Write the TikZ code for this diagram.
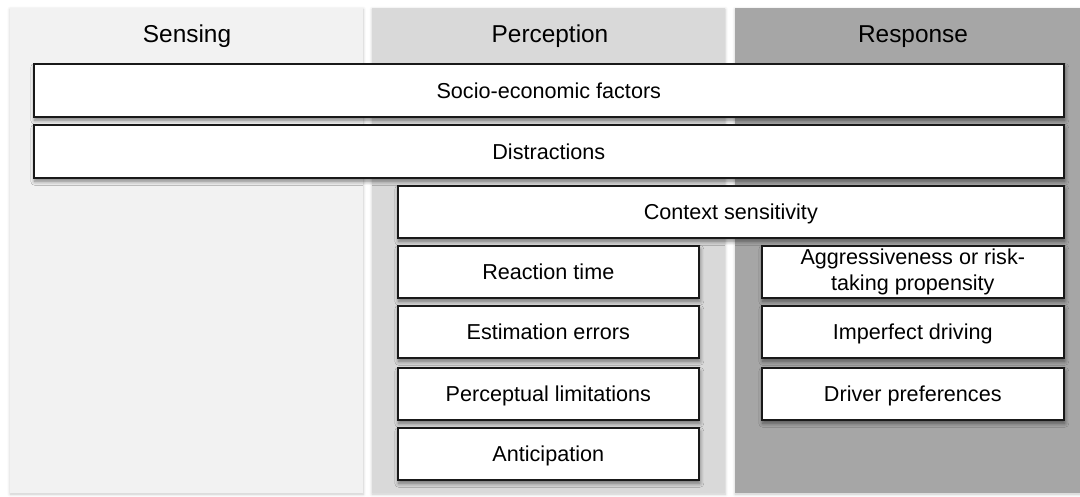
\documentclass[tikz,border=0pt]{standalone}
\usepackage{fontspec}
\setmainfont{Liberation Sans}
\usetikzlibrary{shadows.blur}
\definecolor{senseC}{HTML}{F2F2F2}
\definecolor{percC}{HTML}{D9D9D9}
\definecolor{respC}{HTML}{A6A6A6}
\definecolor{shadeC}{HTML}{5A7A98}
\tikzset{
  panel/.style={draw=none, anchor=north west, inner sep=0pt,
    blur shadow={shadow xshift=0pt, shadow yshift=-1pt, shadow blur radius=3pt,
      shadow blur steps=6, shadow opacity=22, fill=shadeC!70}},
  head/.style={font=\fontsize{24.4}{28}\selectfont, inner sep=0pt, anchor=base},
  factor/.style={
    blur shadow={shadow xshift=1pt, shadow yshift=-3.5pt, shadow blur radius=4pt,
      shadow blur steps=6, shadow opacity=50, fill=shadeC},
    draw=black!90, line width=1.6pt, fill=white, anchor=north west,
    inner sep=0pt, align=center, font=\fontsize{21.6}{26.5}\selectfont},
  oneline/.style={text height=15.6pt, text depth=0pt}
}
\begin{document}
\begin{tikzpicture}[x=1pt, y=-1pt]
\useasboundingbox (0,0) rectangle (1080,496);
% column panels
\node[panel, fill=senseC, minimum width=353pt, minimum height=485pt] (sensing) at (10,8) {};
\node[panel, fill=percC,  minimum width=353pt, minimum height=485pt] (perception) at (372,8) {};
\node[panel, fill=respC,  minimum width=345pt, minimum height=485pt] (response) at (735,8) {};
% column titles
\node[head] (tSens) at (187,42.5) {Sensing};
\node[head] (tPerc) at (550,42.5) {Perception};
\node[head] (tResp) at (913,42.5) {Response};
% factors spanning several columns
\node[factor, oneline, minimum width=1030pt, minimum height=53pt] (socio) at (33,63) {Socio-economic factors};
\node[factor, oneline, minimum width=1030pt, minimum height=53pt] (distr) at (33,124) {Distractions};
\node[factor, oneline, minimum width=666pt, minimum height=52pt] (context) at (397,185) {Context sensitivity};
% perception factors
\node[factor, oneline, minimum width=301pt, minimum height=52pt] (reaction) at (397,245) {Reaction time};
\node[factor, oneline, minimum width=301pt, minimum height=52pt] (estim) at (397,305) {Estimation errors};
\node[factor, oneline, minimum width=301pt, minimum height=52pt] (limits) at (397,367) {Perceptual limitations};
\node[factor, oneline, minimum width=301pt, minimum height=52pt] (antic) at (397,427) {Anticipation};
% response factors
\node[factor, minimum width=302pt, minimum height=52pt] (aggr) at (761,245) {Aggressiveness or risk-\\taking propensity};
\node[factor, oneline, minimum width=302pt, minimum height=52pt] (imperf) at (761,305) {Imperfect driving};
\node[factor, oneline, minimum width=302pt, minimum height=52pt] (pref) at (761,367) {Driver preferences};
\end{tikzpicture}
\end{document}
